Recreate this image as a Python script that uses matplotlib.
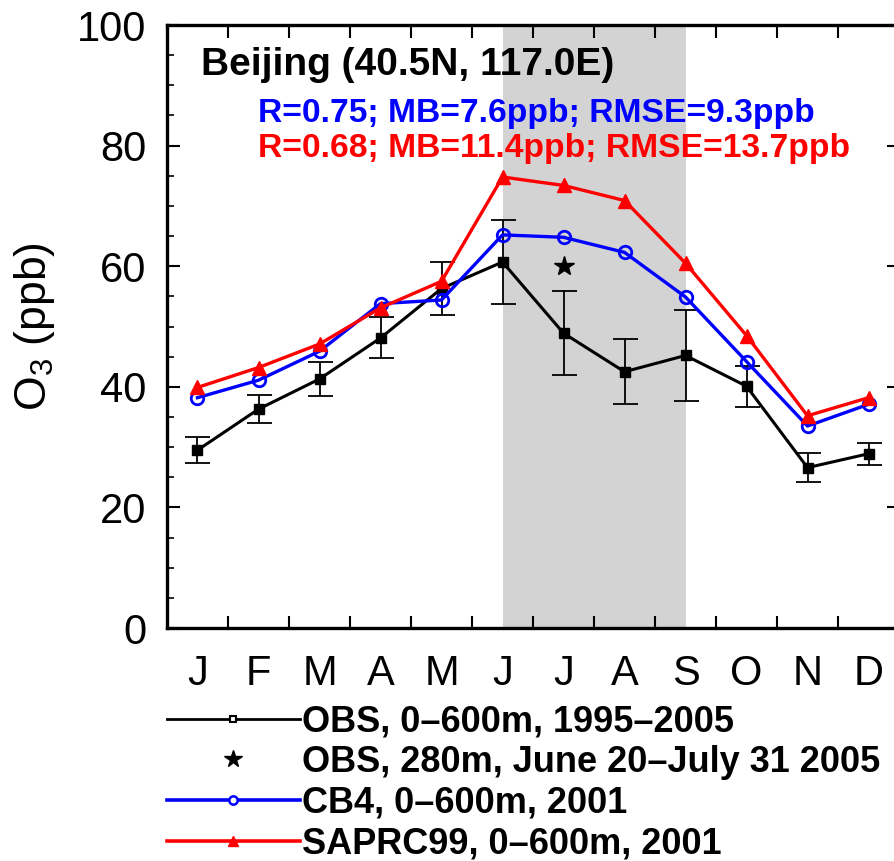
import numpy as np
import matplotlib
matplotlib.use("Agg")
import matplotlib.pyplot as plt
from matplotlib.lines import Line2D

plt.rcParams["font.family"] = ["Liberation Sans", "DejaVu Sans"]
plt.rcParams["mathtext.fontset"] = "custom"
plt.rcParams["mathtext.rm"] = "Liberation Sans"

months = ["J", "F", "M", "A", "M", "J", "J", "A", "S", "O", "N", "D"]
month_num = np.arange(1, 13)

# observed ozone, 0-600 m, 1995-2005 (ppb) with +/- error
obs = [29.5, 36.3, 41.3, 48.1, 56.3, 60.7, 48.9, 42.5, 45.2, 40.1, 26.6, 28.9]
obs_err = [2.1, 2.35, 2.9, 3.4, 4.4, 6.9, 7.0, 5.4, 7.5, 3.4, 2.35, 1.85]

# single campaign value (July, 280 m)
star_month = 7
star_value = 60.0

cb4 = [38.2, 41.1, 45.9, 53.8, 54.4, 65.2, 64.8, 62.3, 54.9, 44.2, 33.5, 37.1]
saprc99 = [39.9, 43.2, 47.1, 53.1, 57.5, 74.8, 73.4, 70.9, 60.5, 48.5, 35.2, 38.2]

summer_start, summer_end = 6, 9

labels = [
    "OBS, 0\u2013600m, 1995\u20132005",
    "OBS, 280m, June 20\u2013July 31 2005",
    "CB4, 0\u2013600m, 2001",
    "SAPRC99, 0\u2013600m, 2001",
]

fig = plt.figure(figsize=(8.94, 8.61), dpi=100)
ax = fig.add_axes([0.1868, 0.2706, 0.8188, 0.7003])

ax.axvspan(summer_start, summer_end, color="#d3d3d3", zorder=0, lw=0)

ax.errorbar(month_num, obs, yerr=obs_err, fmt="none", ecolor="black",
            elinewidth=1.3, capsize=9, capthick=1.3, zorder=2)
ax.plot(month_num, obs, color="black", lw=2.2, marker="s", ms=7.5,
        mfc="black", mec="black", zorder=3)
ax.plot([star_month], [star_value], ls="none", marker="*", ms=15,
        color="black", zorder=3)
ax.plot(month_num, cb4, color="blue", lw=2.4, marker="o", ms=9,
        mfc="none", mec="blue", mew=2, zorder=4)
ax.plot(month_num, saprc99, color="red", lw=2.4, marker="^", ms=10,
        mfc="red", mec="red", zorder=5)

ax.set_xlim(0.5, 12.5)
ax.set_ylim(0, 100)

ax.set_xticks(month_num)
ax.set_xticklabels(months)
ax.set_xticks(np.arange(1.5, 12, 1), minor=True)
ax.tick_params(axis="x", which="major", length=0, pad=19, labelsize=30)
ax.tick_params(axis="x", which="minor", direction="in", length=9, width=1.5,
               top=True, bottom=True)

ax.set_yticks(np.arange(0, 101, 20))
ax.set_yticks(np.arange(0, 101, 5), minor=True)
ax.tick_params(axis="y", which="major", direction="in", length=9, width=1.5,
               left=True, right=True, pad=15, labelsize=30)
ax.tick_params(axis="y", which="minor", direction="in", length=5, width=1.2,
               left=True, right=False)

for side in ["left", "bottom", "top", "right"]:
    ax.spines[side].set_linewidth(2.4)

ax.set_ylabel("O$_3$ (ppb)", fontsize=32)
ax.yaxis.set_label_coords(-0.15, 0.5)

ax.text(0.0464, 0.917, "Beijing (40.5N, 117.0E)", transform=ax.transAxes,
        fontsize=28, fontweight="bold", color="black", va="baseline")
ax.text(0.124, 0.840, "R=0.75; MB=7.6ppb; RMSE=9.3ppb", transform=ax.transAxes,
        fontsize=24.2, fontweight="bold", color="blue", va="baseline")
ax.text(0.124, 0.782, "R=0.68; MB=11.4ppb; RMSE=13.7ppb", transform=ax.transAxes,
        fontsize=24.2, fontweight="bold", color="red", va="baseline")

handles = [
    Line2D([], [], color="black", lw=2.0, marker="s", ms=5, mfc="white", mec="black", mew=1.5),
    Line2D([], [], color="black", ls="none", marker="*", ms=13),
    Line2D([], [], color="blue", lw=2.6, marker="o", ms=6, mfc="white", mec="blue", mew=1.8),
    Line2D([], [], color="red", lw=2.6, marker="^", ms=7, mfc="red", mec="red"),
]
leg = fig.legend(handles, labels, loc="upper left",
                 bbox_to_anchor=(0.1868, 0.182), frameon=False,
                 prop={"size": 26, "weight": "bold"},
                 handlelength=3.68, handletextpad=0.05, labelspacing=0.16,
                 borderpad=0, borderaxespad=0)

fig.savefig("out.png", dpi=100)
